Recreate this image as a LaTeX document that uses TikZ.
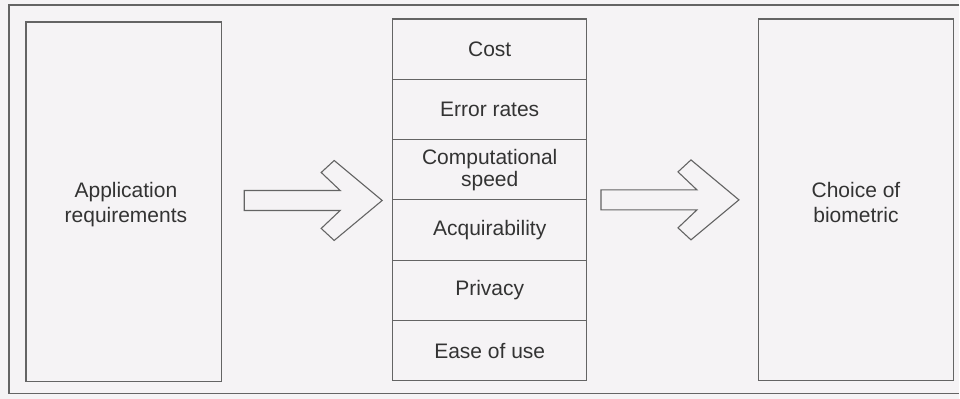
\documentclass[tikz,border=0pt]{standalone}
\usepackage{fontspec}
\setmainfont{Liberation Sans}
\definecolor{bgc}{HTML}{F5F3F5}
\definecolor{linec}{HTML}{646464}
\definecolor{txtc}{HTML}{333333}
\begin{document}
\begin{tikzpicture}[x=1pt,y=-1pt,
  frameline/.style={draw=linec, line width=1.2pt},
  bigbox/.style={draw=linec, line width=1.2pt, inner sep=0pt},
  bigtext/.style={align=center, text=txtc, inner sep=0pt,
    font=\fontsize{21}{25}\selectfont},
  cellbox/.style={draw=linec, line width=1.2pt, inner sep=0pt, align=center,
    text=txtc, minimum width=194pt, minimum height=60.33pt,
    font=\fontsize{21}{22}\selectfont},
  blockarrow/.pic={
    \draw[draw=linec, line width=1.1pt, line join=miter]
      (0,0) -- (-48,-40) -- (-61,-28) -- (-42,-10) -- (-138,-10)
      -- (-138,10) -- (-42,10) -- (-61,28) -- (-48,40) -- cycle;
  }]
  % background / bounding box
  \fill[bgc] (0,0) rectangle (960,399);
  % outer frame (open on the right, as cropped)
  \draw[frameline] (960,5) -- (9,5) -- (9,394) -- (960,394);

  % left box
  \node[bigbox, minimum width=196pt, minimum height=360pt,
        label={[bigtext, yshift=-3pt, xshift=2pt]center:Application\\requirements}]
        (app) at (124,202) {};

  % middle stack
  \node[cellbox] (c1) at (490,49.17) {Cost};
  \node[cellbox] (c2) at (490,109.5) {Error rates};
  \node[cellbox] (c3) at (490,169.83) {\raisebox{-3pt}{\parbox{150pt}{\centering Computational\\speed}}};
  \node[cellbox] (c4) at (490,230.17) {Acquirability};
  \node[cellbox] (c5) at (490,290.5) {Privacy};
  \node[cellbox] (c6) at (490,350.83) {Ease of use};

  % right box
  \node[bigbox, minimum width=195pt, minimum height=362pt,
        label={[bigtext, yshift=-3pt]center:Choice of\\biometric}]
        (choice) at (856.5,200) {};

  % block arrows
  \coordinate (tipA) at ([xshift=-10pt]c3.south west);
  \coordinate (tipB) at ([xshift=-19pt]choice.west);
  \pic at (tipA) {blockarrow};
  \pic at (tipB) {blockarrow};
\end{tikzpicture}
\end{document}
